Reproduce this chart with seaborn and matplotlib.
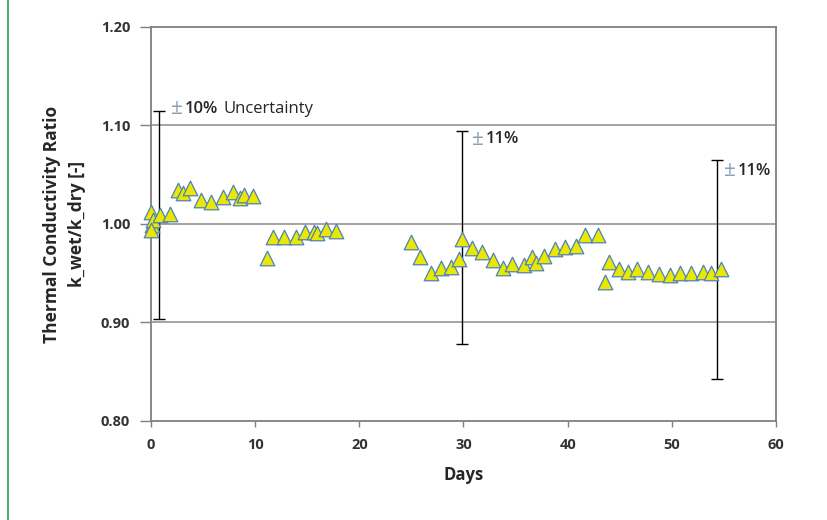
import matplotlib
matplotlib.use("Agg")
import matplotlib.pyplot as plt
import seaborn as sns
import pandas as pd
from matplotlib.lines import Line2D

# measured ratio k_wet/k_dry vs days
days = [0.0, 0.1, 0.2, 0.0, 0.9, 1.8, 2.6, 3.1, 3.7, 4.8, 5.8, 6.9, 7.9, 8.5, 8.9, 9.8,
        11.1, 11.7, 12.8, 13.9, 14.8, 15.6, 15.9, 16.8, 17.8,
        25.0, 25.8, 26.9, 27.8, 28.8, 29.6, 29.9, 30.8, 31.8, 32.8, 33.8, 34.7, 35.8,
        36.6, 37.0, 37.7, 38.8, 39.7, 40.8, 41.7, 42.9, 43.6, 44.0, 44.9, 45.8, 46.7,
        47.7, 48.8, 49.8, 50.8, 51.8, 53.0, 53.8, 54.7]
ratio = [1.012, 0.999, 1.004, 0.994, 1.009, 1.010, 1.035, 1.031, 1.037, 1.024, 1.022, 1.027, 1.032, 1.026, 1.029, 1.028,
         0.965, 0.987, 0.987, 0.987, 0.992, 0.992, 0.991, 0.995, 0.993,
         0.982, 0.966, 0.950, 0.955, 0.956, 0.964, 0.985, 0.976, 0.972, 0.963, 0.955, 0.959, 0.958,
         0.966, 0.960, 0.968, 0.975, 0.977, 0.978, 0.989, 0.989, 0.941, 0.961, 0.954, 0.951, 0.954,
         0.951, 0.949, 0.948, 0.950, 0.950, 0.951, 0.950, 0.954]

# uncertainty bars
err_x = [0.8, 29.9, 54.3]
err_lo = [0.904, 0.878, 0.843]
err_hi = [1.115, 1.094, 1.065]
err_pct = ["10%", "11%", "11%"]
err_suffix = ["Uncertainty", "", ""]
lbl_x = [1.9, 30.8, 55.0]
lbl_y = [1.117, 1.086, 1.054]

df = pd.DataFrame({"Days": days, "ratio": ratio})

sns.set_style("white")
plt.rcParams["font.family"] = ["Open Sans", "DejaVu Sans"]

fig = plt.figure(figsize=(8.27, 5.2), dpi=100)
ax = fig.add_axes([0.1826, 0.1904, 0.7557, 0.7577])

for yv in [0.9, 1.0, 1.1]:
    ax.axhline(yv, color="#8c8c8c", lw=1.1, zorder=0)

sns.scatterplot(data=df, x="Days", y="ratio", marker="^", s=110,
                color="#e8e800", edgecolor="#4f81bd", linewidth=0.9, ax=ax,
                zorder=3, clip_on=False)

mid = [(a + b) / 2 for a, b in zip(err_lo, err_hi)]
half = [(b - a) / 2 for a, b in zip(err_lo, err_hi)]
ax.errorbar(err_x, mid, yerr=half, fmt="none", ecolor="black", elinewidth=1,
            capsize=4, capthick=1, zorder=2)

for x, y, p, s in zip(lbl_x, lbl_y, err_pct, err_suffix):
    ax.annotate("±", (x, y), color="#8aa0b8", fontsize=15, va="center", ha="left")
    ax.annotate(p, (x, y), xytext=(10, 0), textcoords="offset points",
                color="#262626", fontsize=12, fontweight="semibold",
                va="center", ha="left")
    if s:
        ax.annotate(s, (x, y), xytext=(38, 0), textcoords="offset points",
                    color="#262626", fontsize=12, va="center", ha="left")

ax.set_xlim(0, 60)
ax.set_ylim(0.80, 1.20)
ax.set_xticks([0, 10, 20, 30, 40, 50, 60])
ax.set_yticks([0.80, 0.90, 1.00, 1.10, 1.20])
ax.set_yticklabels(["0.80", "0.90", "1.00", "1.10", "1.20"])

for sp in ax.spines.values():
    sp.set_color("#7f7f7f")
    sp.set_linewidth(1.3)
    sp.set_visible(True)

ax.tick_params(axis="y", direction="out", length=8, width=1, color="#7f7f7f",
               labelsize=10.5, labelcolor="#333333", left=True, pad=7)
ax.tick_params(axis="x", direction="out", length=4, width=1, color="#7f7f7f",
               labelsize=10.5, labelcolor="#333333", bottom=True, pad=8)
for t in ax.get_xticklabels() + ax.get_yticklabels():
    t.set_fontweight("bold")

ax.set_xlabel("Days", fontsize=12, fontweight="bold", color="#262626", labelpad=10)
ax.set_ylabel("Thermal Conductivity Ratio\nk_wet/k_dry [-]", fontsize=12.5,
              fontweight="bold", color="#262626", labelpad=11, linespacing=1.45)

fig.add_artist(Line2D([0.0097, 0.0097], [0, 1], color="#2e9e5b", lw=1.2))

fig.savefig("out.png", dpi=100)
